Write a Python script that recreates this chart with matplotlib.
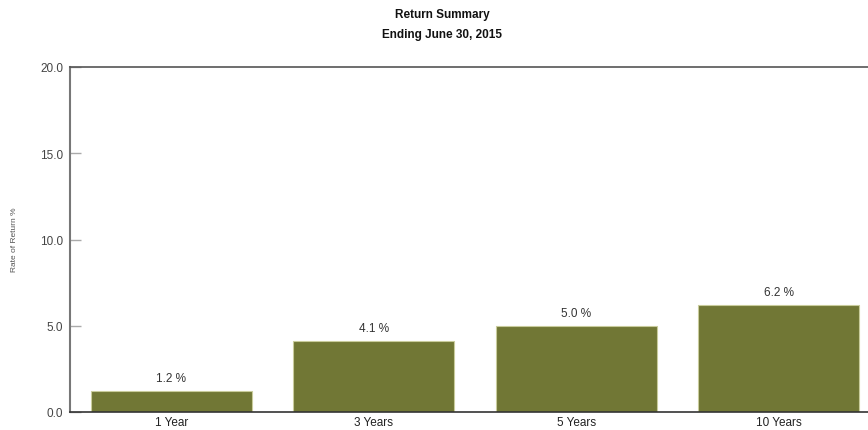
import matplotlib
matplotlib.use("Agg")
import matplotlib.pyplot as plt
import numpy as np

plt.rcParams['font.family'] = ['Liberation Sans', 'DejaVu Sans']

categories = ["1 Year", "3 Years", "5 Years", "10 Years"]
returns = [1.2, 4.1, 5.0, 6.2]
yticks = [0.0, 5.0, 10.0, 15.0, 20.0]

W, H = 868, 431
fig = plt.figure(figsize=(W / 100, H / 100), dpi=100)
left, right, top, bottom = 70, 880, 68, 413
ax = fig.add_axes([left / W, 1 - bottom / H, (right - left) / W, (bottom - top) / H])

x = np.arange(len(categories))
bars = ax.bar(x, returns, width=0.795, color="#717735", edgecolor="#c9cc9c", linewidth=0.8)
for xi, v in zip(x, returns):
    ax.text(xi, v + 0.4, f"{v:.1f} %", ha="center", va="bottom", fontsize=8.5, color="#333333")

ax.set_xlim(-0.5, len(categories) - 0.5)
ax.set_ylim(0, 20)
ax.set_xticks(x)
ax.set_xticklabels(categories, fontsize=8.5, color="#222222")
ax.set_yticks(yticks)
ax.set_yticklabels([f"{t:.1f}" for t in yticks], fontsize=8.5, color="#444444")
ax.tick_params(axis="x", length=0, pad=3)
ax.tick_params(axis="y", direction="in", length=8, width=1, color="#aaaaaa", pad=5)

ax.spines["top"].set_color("#555555")
ax.spines["top"].set_linewidth(1.2)
ax.spines["bottom"].set_color("#333333")
ax.spines["bottom"].set_linewidth(1.2)
ax.spines["left"].set_color("#777777")
ax.spines["left"].set_linewidth(1.5)
ax.spines["right"].set_visible(False)

fig.text(15 / W, 1 - 240 / H, "Rate of Return %", rotation=90, ha="center", va="center",
         fontsize=6, color="#555555")

fig.text(442 / W, 1 - 15 / H, "Return Summary", ha="center", va="center",
         fontsize=8.5, fontweight="bold", color="#111111")
fig.text(442 / W, 1 - 35 / H, "Ending June 30, 2015", ha="center", va="center",
         fontsize=8.5, fontweight="bold", color="#111111")

fig.savefig("out.png", dpi=100)
